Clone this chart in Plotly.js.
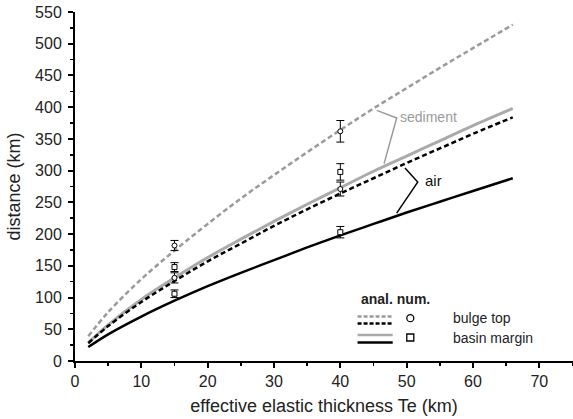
<!DOCTYPE html>
<html>
<head>
<meta charset="utf-8">
<script src="https://cdn.plot.ly/plotly-3.0.1.min.js"></script>
<style>html,body{margin:0;padding:0;background:#fff;}#chart{width:573px;height:419px;}</style>
</head>
<body>
<div id="chart"></div>
<script>
// Effective elastic thickness (km) at which the curves were read
const te = [2, 5, 10, 15, 20, 25, 30, 35, 40, 45, 50, 55, 60, 66];
// Analytical curves (distance, km)
const sedimentBulge  = [39, 77, 129, 174, 216, 256, 293, 329, 364, 398, 430, 462, 493, 530];
const sedimentMargin = [29, 57, 97, 131, 163, 192, 220, 247, 273, 299, 323, 347, 371, 398];
const airBulge       = [28, 55, 93, 126, 157, 185, 213, 239, 264, 288, 312, 335, 358, 384];
const airMargin      = [22, 42, 70, 95, 118, 139, 159, 179, 198, 216, 234, 251, 268, 288];
// Numerical results
const numTe        = [15, 40];
const bulgeSed     = [182, 362];
const bulgeSedErr  = [8, 17];
const bulgeAir     = [131, 271];
const bulgeAirErr  = [8, 11];
const marginSed    = [148, 298];
const marginSedErr = [7, 13];
const marginAir    = [106, 203];
const marginAirErr = [6, 9];
// Axis ticks
const xTicks = [0, 10, 20, 30, 40, 50, 60, 70];
const yTicks = [0, 50, 100, 150, 200, 250, 300, 350, 400, 450, 500, 550];
// Legend key positions (data units)
const legendMarkX = [50.55, 50.55];
const legendMarkY = [67.5, 37];

const GRAY = '#9a9a9a';
const FONT = 'Liberation Sans, Arial, Helvetica, sans-serif';

function curve(y, color, dash, width) {
  return {x: te, y: y, mode: 'lines', type: 'scatter', showlegend: false, hoverinfo: 'skip',
          line: {color: color, dash: dash, width: width, shape: 'spline', smoothing: 1}};
}
function pts(y, err, symbol) {
  return {x: numTe, y: y, mode: 'markers', type: 'scatter', showlegend: false,
          marker: {symbol: symbol, size: 5, color: 'white', line: {color: 'black', width: 1}},
          error_y: {type: 'data', array: err, visible: true, color: 'black', thickness: 1, width: 4}};
}

const traces = [
  curve(sedimentBulge, GRAY, '5px,3px', 2.5),
  curve(sedimentMargin, '#aaaaaa', 'solid', 3),
  curve(airBulge, 'black', '5px,3px', 2.5),
  curve(airMargin, 'black', 'solid', 2.5),
  pts(bulgeSed, bulgeSedErr, 'circle'),
  pts(marginSed, marginSedErr, 'square'),
  pts(bulgeAir, bulgeAirErr, 'circle'),
  pts(marginAir, marginAirErr, 'square'),
  {x: legendMarkX, y: legendMarkY, mode: 'markers', type: 'scatter', showlegend: false, cliponaxis: false,
   marker: {symbol: ['circle', 'square'], size: 7, color: 'white', line: {color: 'black', width: 1.3}}}
];

// legend decoration and bracket leaders (data coordinates)
const shapes = [
  {type: 'line', x0: 42.6, x1: 47.9, y0: 70, y1: 70, line: {color: GRAY, width: 2.5, dash: '4px,2px'}},
  {type: 'line', x0: 42.6, x1: 47.9, y0: 59, y1: 59, line: {color: 'black', width: 2.5, dash: '4px,2px'}},
  {type: 'line', x0: 42.6, x1: 47.9, y0: 41, y1: 41, line: {color: '#aaaaaa', width: 2.5}},
  {type: 'line', x0: 42.6, x1: 47.9, y0: 29, y1: 29, line: {color: 'black', width: 2.5}},
  {type: 'path', path: 'M 45.5 395 L 48.5 383 L 46.6 311', line: {color: GRAY, width: 1.5}},
  {type: 'path', path: 'M 49.75 304 L 51.67 282 L 48.5 233', line: {color: 'black', width: 1.5}}
];

const annotations = [
  {x: 42.8, y: 97, xanchor: 'left', yanchor: 'middle', text: '<b>anal. num.</b>', showarrow: false,
   font: {family: FONT, size: 14, color: '#222'}},
  {x: 56.7, y: 67, xanchor: 'left', yanchor: 'middle', text: 'bulge top', showarrow: false,
   font: {family: FONT, size: 14, color: '#222'}},
  {x: 56.7, y: 36, xanchor: 'left', yanchor: 'middle', text: 'basin margin', showarrow: false,
   font: {family: FONT, size: 14, color: '#222'}},
  {x: 48.7, y: 385, xanchor: 'left', yanchor: 'middle', text: 'sediment', showarrow: false,
   font: {family: FONT, size: 14, color: GRAY}},
  {x: 52.4, y: 285, xanchor: 'left', yanchor: 'middle', text: 'air', showarrow: false,
   font: {family: FONT, size: 15, color: '#111'}}
];

const layout = {
  width: 573, height: 419,
  margin: {l: 75, r: 0, t: 12, b: 58, pad: 0},
  paper_bgcolor: 'white', plot_bgcolor: 'white',
  font: {family: FONT, size: 16, color: '#222'},
  showlegend: false,
  xaxis: {
    range: [0, 75.08], tickvals: xTicks, ticks: 'outside', ticklen: 5, tickwidth: 2, tickcolor: 'black',
    showline: true, linecolor: 'black', linewidth: 2, showgrid: false, zeroline: false,
    minor: {dtick: 5, tick0: 0, ticks: 'outside', ticklen: 3, tickwidth: 1.5, tickcolor: 'black', showgrid: false},
    tickfont: {size: 16}, automargin: false,
    title: {text: 'effective elastic thickness Te (km)', font: {size: 18}, standoff: 10}
  },
  yaxis: {
    range: [0, 550], tickvals: yTicks, ticks: 'outside', ticklen: 5, tickwidth: 2, tickcolor: 'black',
    showline: true, linecolor: 'black', linewidth: 2, showgrid: false, zeroline: false,
    minor: {dtick: 25, tick0: 0, ticks: 'outside', ticklen: 3, tickwidth: 1.5, tickcolor: 'black', showgrid: false},
    tickfont: {size: 16}, automargin: false, ticklabelstandoff: 3,
    title: {text: 'distance (km)', font: {size: 18}, standoff: 10}
  },
  shapes: shapes,
  annotations: annotations
};

Plotly.newPlot('chart', traces, layout, {staticPlot: true, displayModeBar: false});
</script>
</body>
</html>
